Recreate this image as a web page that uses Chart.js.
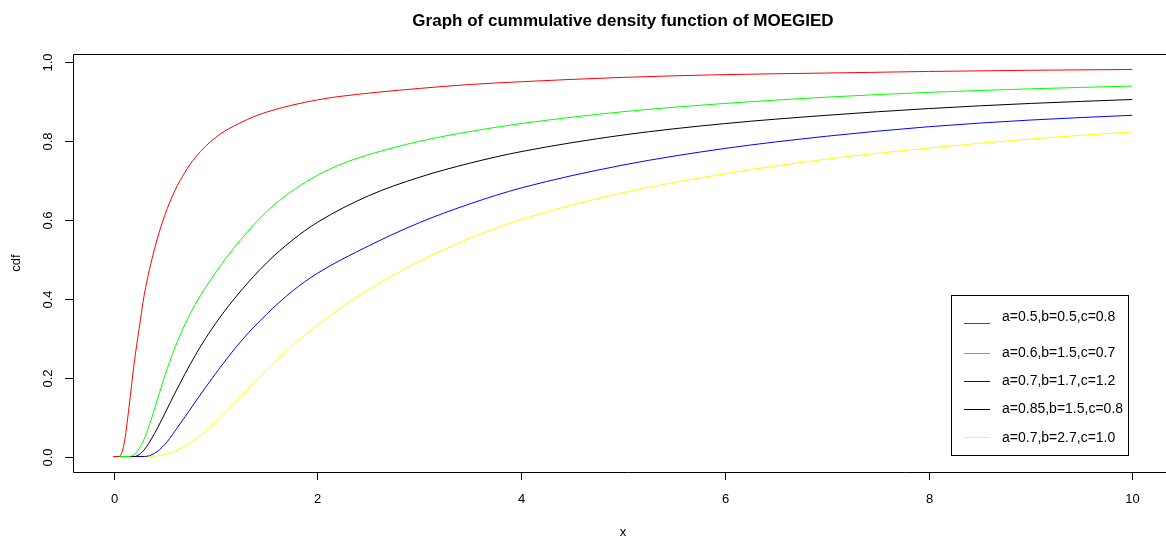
<!DOCTYPE html>
<html>
<head>
<meta charset="utf-8">
<script src="https://cdn.jsdelivr.net/npm/chart.js@4.4.1/dist/chart.umd.min.js"></script>
<style>
  html, body { margin: 0; padding: 0; background: #fff; overflow: hidden; }
  #wrap { width: 1246px; height: 538px; }
</style>
</head>
<body>
<div id="wrap"><canvas id="c" width="1246" height="538"></canvas></div>
<script>
// ---- Data ----
const xRed    = [0, 0.05, 0.1, 0.15, 0.2, 0.25, 0.3, 0.4, 0.5, 0.6, 0.7, 0.8, 1.0, 1.25, 1.5, 2.0, 2.5, 3.0, 3.5, 4, 5, 6, 7, 8, 9, 10];
const yRed    = [0, 0, 0.03, 0.125, 0.235, 0.325, 0.41, 0.525, 0.61, 0.673, 0.72, 0.757, 0.808, 0.846, 0.872, 0.903, 0.92, 0.932, 0.942, 0.949, 0.96, 0.967, 0.971, 0.975, 0.978, 0.98];

const xGreen  = [0, 0.15, 0.2, 0.25, 0.3, 0.35, 0.4, 0.5, 0.6, 0.7, 0.8, 1.0, 1.25, 1.5, 1.75, 2.0, 2.25, 2.5, 3.0, 3.5, 4, 5, 6, 7, 8, 9, 10];
const yGreen  = [0, 0, 0.005, 0.02, 0.045, 0.08, 0.12, 0.203, 0.275, 0.335, 0.385, 0.466, 0.55, 0.62, 0.672, 0.712, 0.742, 0.764, 0.798, 0.823, 0.843, 0.873, 0.894, 0.91, 0.922, 0.931, 0.938];

const xBlack  = [0, 0.2, 0.25, 0.3, 0.4, 0.5, 0.6, 0.8, 1.0, 1.25, 1.5, 1.75, 2.0, 2.5, 3.0, 3.5, 4, 5, 6, 7, 8, 9, 10];
const yBlack  = [0, 0, 0.005, 0.017, 0.058, 0.108, 0.16, 0.256, 0.337, 0.42, 0.49, 0.547, 0.593, 0.66, 0.707, 0.743, 0.772, 0.814, 0.843, 0.864, 0.881, 0.894, 0.904];

const xBlue   = [0, 0.3, 0.4, 0.5, 0.6, 0.8, 1.0, 1.25, 1.5, 1.75, 2.0, 2.5, 3.0, 3.5, 4, 5, 6, 7, 8, 9, 10];
const yBlue   = [0, 0, 0.008, 0.03, 0.064, 0.138, 0.21, 0.292, 0.36, 0.418, 0.464, 0.533, 0.592, 0.64, 0.68, 0.738, 0.78, 0.811, 0.835, 0.852, 0.864];

const xYellow = [0, 0.35, 0.5, 0.6, 0.8, 1.0, 1.25, 1.5, 1.75, 2.0, 2.5, 3.0, 3.5, 4, 5, 6, 7, 8, 9, 10];
const yYellow = [0, 0, 0.005, 0.013, 0.043, 0.088, 0.153, 0.22, 0.28, 0.333, 0.422, 0.494, 0.553, 0.60, 0.668, 0.716, 0.753, 0.781, 0.804, 0.822];

const seriesLabels = ["a=0.5,b=0.5,c=0.8", "a=0.6,b=1.5,c=0.7", "a=0.7,b=1.7,c=1.2", "a=0.85,b=1.5,c=0.8", "a=0.7,b=2.7,c=1.0"];
const xTicks = [0, 2, 4, 6, 8, 10];
const yTicks = [0.0, 0.2, 0.4, 0.6, 0.8, 1.0];
const titleText = "Graph of cummulative density function of MOEGIED";
const xTitle = "x";
const yTitle = "cdf";

function pts(xs, ys) { return xs.map((x, i) => ({ x: x, y: ys[i] })); }

// legend order & colours (legend shows blue 3rd, black 4th)
const legendColors = ["#ff0000", "#00ff00", "#0000ff", "#000000", "#ffff00"];

const FONT = "Liberation Sans, Arial, sans-serif";

const rPlot = {
  id: 'rPlot',
  afterDraw(chart) {
    const ctx = chart.ctx;
    const a = chart.chartArea;
    const xs = chart.scales.x, ys = chart.scales.y;
    ctx.save();
    // box (right side lies outside the visible window)
    ctx.strokeStyle = '#000';
    ctx.lineWidth = 1;
    ctx.beginPath();
    ctx.moveTo(a.right + 10, a.top + 0.5);
    ctx.lineTo(a.left + 0.5, a.top + 0.5);
    ctx.lineTo(a.left + 0.5, a.bottom + 0.5);
    ctx.lineTo(a.right + 10, a.bottom + 0.5);
    ctx.stroke();
    // x ticks
    ctx.fillStyle = '#000';
    ctx.font = '13px ' + FONT;
    ctx.textAlign = 'center';
    ctx.textBaseline = 'middle';
    xTicks.forEach(t => {
      const px = Math.round(xs.getPixelForValue(t)) + 0.5;
      ctx.beginPath(); ctx.moveTo(px, a.bottom); ctx.lineTo(px, a.bottom + 8); ctx.stroke();
      ctx.fillText(String(t), px, 499);
    });
    // y ticks
    yTicks.forEach(t => {
      const py = Math.round(ys.getPixelForValue(t)) + 0.5;
      ctx.beginPath(); ctx.moveTo(a.left, py); ctx.lineTo(a.left - 8, py); ctx.stroke();
      ctx.save();
      ctx.translate(48, py);
      ctx.rotate(-Math.PI / 2);
      ctx.fillText(t.toFixed(1), 0, 0);
      ctx.restore();
    });
    // axis titles
    ctx.fillText(xTitle, (a.left + a.right) / 2, 532);
    ctx.save();
    ctx.translate(16, (a.top + a.bottom) / 2);
    ctx.rotate(-Math.PI / 2);
    ctx.fillText(yTitle, 0, 0);
    ctx.restore();
    // title
    ctx.font = 'bold 17px ' + FONT;
    ctx.fillText(titleText, (a.left + a.right) / 2, 21);
    // legend
    ctx.fillStyle = '#fff';
    ctx.fillRect(951, 295, 177, 160);
    ctx.strokeStyle = '#000';
    ctx.strokeRect(951.5, 295.5, 177, 160);
    const lineY = [323, 353, 381, 409, 437];
    const textY = [317, 353, 381, 409, 438];
    ctx.font = '14px ' + FONT;
    ctx.textAlign = 'left';
    seriesLabels.forEach((lab, i) => {
      ctx.strokeStyle = legendColors[i];
      ctx.beginPath(); ctx.moveTo(964, lineY[i] + 0.5); ctx.lineTo(990, lineY[i] + 0.5); ctx.stroke();
      ctx.fillStyle = '#000';
      ctx.fillText(lab, 1002, textY[i]);
    });
    ctx.restore();
  }
};

const common = { fill: false, borderWidth: 1, pointRadius: 0, cubicInterpolationMode: 'monotone' };

new Chart(document.getElementById('c'), {
  type: 'line',
  data: {
    datasets: [
      Object.assign({ label: seriesLabels[0], data: pts(xRed, yRed), borderColor: '#ff0000' }, common),
      Object.assign({ label: seriesLabels[1], data: pts(xGreen, yGreen), borderColor: '#00ff00' }, common),
      Object.assign({ label: seriesLabels[3], data: pts(xBlack, yBlack), borderColor: '#000000' }, common),
      Object.assign({ label: seriesLabels[2], data: pts(xBlue, yBlue), borderColor: '#0000ff' }, common),
      Object.assign({ label: seriesLabels[4], data: pts(xYellow, yYellow), borderColor: '#ffff00' }, common)
    ]
  },
  options: {
    responsive: false,
    animation: false,
    layout: { padding: { left: 73, top: 54, right: 73, bottom: 66 } },
    plugins: { legend: { display: false }, title: { display: false }, tooltip: { enabled: false } },
    scales: {
      x: { type: 'linear', min: -0.4, max: 10.4, display: false },
      y: { type: 'linear', min: -0.0392, max: 1.0192, display: false }
    }
  },
  plugins: [rPlot]
});
</script>
</body>
</html>
